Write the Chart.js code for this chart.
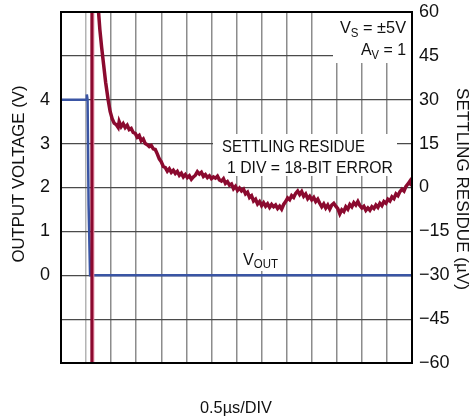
<!DOCTYPE html>
<html><head><meta charset="utf-8">
<script src="https://cdn.jsdelivr.net/npm/chart.js@4.4.0/dist/chart.umd.min.js"></script>
<style>html,body{margin:0;padding:0;background:#fff;}canvas{display:block;}</style>
</head><body>
<canvas id="c" width="471" height="419"></canvas>
<script>
// ---- data (x in divisions of 0.5us) ----
const voutX = [0, 1.00, 1.03, 1.06, 1.10, 1.16, 14];
const voutY = [4, 4, 4.12, 4.0, 1.6, 0, 0];
const spikeX = [1.23, 1.23];
const spikeY = [-80, 80];
const resX = [1.40,1.48,1.55,1.62,1.70,1.78,1.88,1.96,2.04,2.12,2.20,2.28,2.32,2.40,2.48,2.56,2.64,2.72,2.80,2.88,2.96,3.04,3.12,3.20,3.28,3.36,3.44,3.52,3.60,3.68,3.76,3.84,3.92,4.00,4.08,4.16,4.24,4.32,4.40,4.48,4.56,4.64,4.72,4.80,4.88,4.96,5.04,5.12,5.20,5.28,5.36,5.44,5.52,5.60,5.68,5.76,5.84,5.92,6.00,6.08,6.16,6.24,6.32,6.40,6.48,6.56,6.64,6.72,6.80,6.88,6.96,7.04,7.12,7.20,7.28,7.36,7.44,7.52,7.60,7.68,7.76,7.84,7.92,8.00,8.08,8.16,8.24,8.32,8.40,8.48,8.56,8.64,8.72,8.80,8.88,8.96,9.04,9.12,9.20,9.28,9.36,9.44,9.52,9.60,9.68,9.76,9.84,9.92,10.00,10.08,10.16,10.24,10.32,10.40,10.48,10.56,10.64,10.72,10.80,10.88,10.96,11.04,11.12,11.20,11.28,11.36,11.44,11.52,11.60,11.68,11.76,11.84,11.92,12.00,12.08,12.16,12.24,12.32,12.40,12.48,12.56,12.64,12.72,12.80,12.88,12.96,13.04,13.12,13.20,13.28,13.36,13.44,13.52,13.60,13.68,13.76,13.84,13.92,13.96,14.00];
const resY = [72,62,54,48,42,36,30,26,23.5,22,21.5,20.5,22.5,20.8,21.8,20.5,21.3,19.8,20.2,18.8,18.5,17.2,17.8,16.0,16.6,15.0,14.6,14.0,14.4,13.2,13.0,11.5,9.8,8.8,7.2,6.8,5.6,6.4,5.2,5.9,4.8,5.5,4.2,4.9,3.6,4.4,3.4,4.0,2.8,3.6,4.2,5.4,4.6,5.2,3.8,4.4,3.4,4.0,3.0,3.6,3.2,3.9,2.6,2.2,3.0,1.4,2.0,0.8,1.2,-0.4,0.4,-1.0,-0.2,-1.2,-0.6,-2.2,-1.6,-3.4,-2.8,-4.6,-4.0,-5.6,-4.8,-6.2,-5.2,-6.4,-5.6,-6.8,-5.8,-6.6,-6.0,-7.2,-6.4,-7.4,-5.8,-4.8,-3.6,-4.2,-2.8,-3.4,-2.0,-1.2,-2.4,-1.4,-3.0,-2.2,-3.8,-3.0,-4.2,-3.4,-4.8,-4.0,-5.4,-6.6,-5.6,-7.0,-6.0,-7.4,-6.0,-5.4,-6.4,-7.2,-9.0,-7.6,-8.2,-6.6,-7.4,-5.8,-6.6,-5.2,-6.0,-4.8,-6.2,-7.0,-6.4,-7.8,-7.0,-7.8,-6.6,-7.2,-6.0,-6.8,-5.4,-6.2,-4.8,-5.4,-4.0,-4.6,-3.2,-3.8,-2.2,-2.8,-1.4,-0.6,-1.2,0.4,1.2,2.2,1.0,0.8];
const leftTickLabels = [0, 1, 2, 3, 4];
const rightTickValues = [-60, -45, -30, -15, 0, 15, 30, 45, 60];

const pts = (xs, ys) => xs.map((x, i) => ({x, y: ys[i]}));
const RED = '#8b0a2f', BLUE = '#3a55a4';
const FONT = "'Liberation Sans Narrow', 'Liberation Sans', Arial, sans-serif";
const BASEF = "px 'Liberation Sans', Arial, sans-serif";

function drawFit(ctx, text, x, y, size, width, align) {
  ctx.font = size + BASEF;
  const w = ctx.measureText(text).width;
  const s = width / w;
  ctx.save();
  ctx.translate(x, y);
  ctx.scale(s, 1);
  ctx.textAlign = align || 'left';
  ctx.fillText(text, 0, 0);
  ctx.restore();
}
// parts: [text, size, dy]; fitted to width, starting at x (align left) or ending at x (align right)
function runs(ctx, parts, x, base, width, align) {
  let total = 0;
  const ws = parts.map(p => { ctx.font = p[1] + BASEF; const w = ctx.measureText(p[0]).width; total += w; return w; });
  const s = width / total;
  let cx = align === 'right' ? x - width : x;
  parts.forEach((p, i) => {
    ctx.save();
    ctx.font = p[1] + BASEF;
    ctx.translate(cx, base + p[2]); ctx.scale(s, 1);
    ctx.textAlign = 'left'; ctx.fillText(p[0], 0, 0);
    ctx.restore();
    cx += ws[i] * s;
  });
}

const deco = {
  id: 'deco',
  beforeDatasetsDraw(chart) {
    const ctx = chart.ctx;
    ctx.save();
    ctx.fillStyle = '#fff';
    ctx.fillRect(333, 13, 78, 50);
    ctx.fillRect(213, 134, 184, 42);
    ctx.fillRect(240, 250, 42, 21);
    ctx.restore();
  },
  afterDraw(chart) {
    const ctx = chart.ctx, a = chart.chartArea;
    ctx.save();
    ctx.strokeStyle = '#000'; ctx.lineWidth = 2;
    ctx.strokeRect(a.left, a.top, a.right - a.left, a.bottom - a.top);
    ctx.fillStyle = '#111'; ctx.textBaseline = 'alphabetic';
    // annotations
    drawFit(ctx, 'SETTLING RESIDUE', 222, 152, 17, 143);
    drawFit(ctx, '1 DIV = 18-BIT ERROR', 227, 173, 17, 166);
    runs(ctx, [['V', 17, 0], ['S', 12, 4], [' = \u00b15V', 17, 0]], 406, 33, 66, 'right');
    runs(ctx, [['A', 17, 0], ['V', 12, 4], [' = 1', 17, 0]], 406, 55, 45, 'right');
    runs(ctx, [['V', 17, 0], ['OUT', 12, 3]], 243, 265, 35, 'left');
    // axis titles
    ctx.save(); ctx.translate(24, 174); ctx.rotate(-Math.PI / 2);
    drawFit(ctx, 'OUTPUT VOLTAGE (V)', 0, 0, 17, 177, 'center'); ctx.restore();
    ctx.save(); ctx.translate(457, 189); ctx.rotate(Math.PI / 2);
    drawFit(ctx, 'SETTLING RESIDUE (\u00b5V)', 0, 0, 17, 202, 'center'); ctx.restore();
    drawFit(ctx, '0.5\u00b5s/DIV', 236, 413, 17, 72, 'center');
    ctx.restore();
  }
};

new Chart(document.getElementById('c'), {
  type: 'line',
  data: {
    datasets: [
      { data: pts(resX, resY), yAxisID: 'y2', borderColor: RED, borderWidth: 3.5, pointRadius: 0, tension: 0, clip: 0 },
      { data: pts(spikeX, spikeY), yAxisID: 'y2', borderColor: RED, borderWidth: 3, pointRadius: 0, clip: 0 },
      { data: pts(spikeX.map(v => v + 0.07), spikeY), yAxisID: 'y2', borderColor: '#e58aa4', borderWidth: 1.5, pointRadius: 0, clip: 0 },
      { data: pts(voutX, voutY), yAxisID: 'y', borderColor: BLUE, borderWidth: 2.5, pointRadius: 0, tension: 0, clip: 0 }
    ]
  },
  options: {
    responsive: false, animation: false, devicePixelRatio: 1,
    layout: { padding: { top: 12, left: 0, right: 0, bottom: 0 } },
    plugins: { legend: { display: false }, tooltip: { enabled: false } },
    scales: {
      x: {
        type: 'linear', min: 0, max: 14,
        ticks: { display: false, stepSize: 1 },
        grid: { color: c => (c.index === 1 ? '#b4b4b4' : '#8c8c8c'), lineWidth: 1.5, drawTicks: false },
        border: { display: false },
        afterFit: s => { s.height = 56; s.paddingLeft = 0; s.paddingRight = 0; }
      },
      y: {
        position: 'left', min: -2, max: 6,
        ticks: { stepSize: 1, padding: 11, color: '#111', font: { family: FONT, size: 18 },
          callback: v => (leftTickLabels.includes(v) ? String(v) : null) },
        grid: { display: false, drawTicks: false },
        border: { display: false },
        afterFit: s => { s.width = 61; s.paddingTop = 0; s.paddingBottom = 0; }
      },
      y2: {
        position: 'right', min: -60, max: 60,
        afterBuildTicks: s => { s.ticks = rightTickValues.map(v => ({ value: v })); },
        ticks: { padding: 7, color: '#111', font: { family: FONT, size: 18 },
          callback: v => (v < 0 ? '\u2212' + Math.abs(v) : String(v)) },
        grid: { color: '#4a4a4a', lineWidth: 1.2, drawTicks: false },
        border: { display: false },
        afterFit: s => { s.width = 59; s.paddingTop = 0; s.paddingBottom = 0; }
      }
    }
  },
  plugins: [deco]
});
</script>
</body></html>
